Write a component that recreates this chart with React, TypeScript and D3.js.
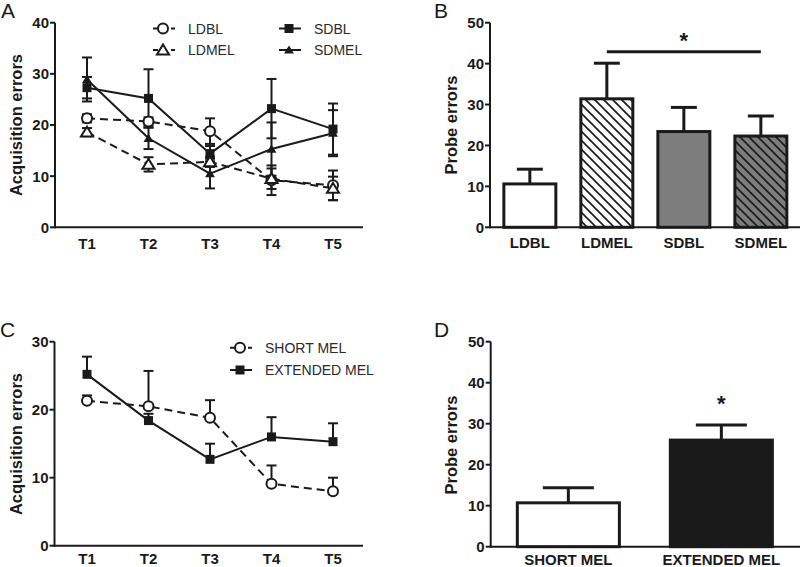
import React from "react";
import * as d3 from "d3";

const trials = ["T1", "T2", "T3", "T4", "T5"];
const ldblMean = [21.3, 20.7, 18.8, 9.2, 8.2];
const ldblErr = [0.8, 0.8, 2.5, 2.9, 2.9];
const ldmelMean = [18.6, 12.3, 12.8, 9.5, 7.6];
const ldmelErr = [0.8, 1.4, 1.0, 2.0, 2.3];
const sdblMean = [27.3, 25.2, 14.4, 23.2, 19.2];
const sdblErr = [2.1, 5.7, 1.5, 5.8, 5.0];
const sdmelMean = [28.9, 17.4, 10.5, 15.3, 18.4];
const sdmelErr = [4.3, 2.1, 2.9, 5.2, 4.5];

const groupsB = ["LDBL", "LDMEL", "SDBL", "SDMEL"];
const probeMeanB = [10.6, 31.4, 23.4, 22.3];
const probeErrB = [3.6, 8.7, 5.9, 4.9];

const shortMean = [21.3, 20.5, 18.8, 9.1, 8.0];
const shortErr = [0.8, 5.2, 2.6, 2.7, 2.0];
const extMean = [25.2, 18.4, 12.7, 16.0, 15.3];
const extErr = [2.6, 1.0, 2.3, 2.9, 2.7];

const groupsD = ["SHORT MEL", "EXTENDED MEL"];
const probeMeanD = [10.7, 26.0];
const probeErrD = [3.7, 3.7];

const yTicksA = [0, 10, 20, 30, 40];
const yTicksB = [0, 10, 20, 30, 40, 50];
const yTicksC = [0, 10, 20, 30];

const FONT = "'Liberation Sans', Arial, sans-serif";
const INK = "#1a1a1a";

type Marker = "circle" | "triangleOpen" | "square" | "triangle";

function MarkerShape({ type, x, y }: { type: Marker; x: number; y: number }) {
  if (type === "circle")
    return <circle cx={x} cy={y} r={5} fill="white" stroke={INK} strokeWidth={2} />;
  if (type === "square")
    return <rect x={x - 4.5} y={y - 4.5} width={9} height={9} fill={INK} />;
  const s = type === "triangle" ? 4.5 : 5.5;
  const p = `M${x},${y - s}L${x + s * 1.1},${y + s * 0.8}L${x - s * 1.1},${y + s * 0.8}Z`;
  if (type === "triangleOpen")
    return <path d={p} fill="white" stroke={INK} strokeWidth={2} />;
  return <path d={p} fill={INK} />;
}

function YAxis({ scale, ticks, x }: { scale: d3.ScaleLinear<number, number>; ticks: number[]; x: number }) {
  const [r0, r1] = scale.range();
  return (
    <g>
      <line x1={x} x2={x} y1={r0 + 1} y2={r1} stroke={INK} strokeWidth={2} />
      {ticks.map((t) => (
        <g key={t}>
          <line x1={x - 5} x2={x} y1={scale(t)} y2={scale(t)} stroke={INK} strokeWidth={2} />
          <text x={x - 6} y={scale(t)} dy="0.36em" textAnchor="end" fontFamily={FONT} fontWeight="bold" fontSize={15} fill={INK}>
            {t}
          </text>
        </g>
      ))}
    </g>
  );
}

function LinePanel({
  series,
  y,
  x,
  xAxisEnd,
  labelY,
  symmetric,
}: {
  series: { mean: number[]; err: number[]; marker: Marker; dashed: boolean }[];
  y: d3.ScaleLinear<number, number>;
  x: d3.ScalePoint<string>;
  xAxisEnd: number;
  labelY: number;
  symmetric: boolean;
}) {
  const line = d3
    .line<number>()
    .x((_, i) => x(trials[i])!)
    .y((d) => y(d));
  const y0 = y(0);
  return (
    <g>
      <line x1={54} x2={xAxisEnd} y1={y0} y2={y0} stroke={INK} strokeWidth={2} />
      {trials.map((t) => (
        <text key={t} x={x(t)} y={labelY} textAnchor="middle" fontFamily={FONT} fontWeight="bold" fontSize={15} fill={INK}>
          {t}
        </text>
      ))}
      {series.map((s, si) => (
        <path key={"l" + si} d={line(s.mean)!} fill="none" stroke={INK} strokeWidth={2} strokeDasharray={s.dashed ? "8,5" : undefined} />
      ))}
      {series.map((s, si) =>
        s.mean.map((m, i) => {
          const cx = x(trials[i])!;
          const top = y(m + s.err[i]);
          const bot = symmetric ? y(m - s.err[i]) : y(m);
          return (
            <g key={"e" + si + "-" + i}>
              <line x1={cx} x2={cx} y1={top} y2={bot} stroke={INK} strokeWidth={2} />
              <line x1={cx - 5} x2={cx + 5} y1={top} y2={top} stroke={INK} strokeWidth={2} />
              {symmetric && <line x1={cx - 5} x2={cx + 5} y1={bot} y2={bot} stroke={INK} strokeWidth={2} />}
            </g>
          );
        })
      )}
      {series.map((s, si) =>
        s.mean.map((m, i) => <MarkerShape key={"m" + si + "-" + i} type={s.marker} x={x(trials[i])!} y={y(m)} />)
      )}
    </g>
  );
}

function LegendItem({ x, y, marker, dashed, label }: { x: number; y: number; marker: Marker; dashed: boolean; label: string }) {
  return (
    <g>
      <line x1={x - 10} x2={x + 12} y1={y} y2={y} stroke={INK} strokeWidth={2} strokeDasharray={dashed ? "5,4" : undefined} />
      <MarkerShape type={marker} x={x} y={y} />
      <text x={x + 25} y={y} dy="0.36em" fontFamily={FONT} fontSize={14} fill="#2a2a2a">
        {label}
      </text>
    </g>
  );
}

function BarPanel({
  groups,
  means,
  errs,
  y,
  band,
  fills,
  labelY,
}: {
  groups: string[];
  means: number[];
  errs: number[];
  y: d3.ScaleLinear<number, number>;
  band: d3.ScaleBand<string>;
  fills: string[];
  labelY: number;
}) {
  const y0 = y(0);
  const bw = band.bandwidth();
  return (
    <g>
      {groups.map((g, i) => {
        const bx = band(g)!;
        const cx = bx + bw / 2;
        const top = y(means[i]);
        const et = y(means[i] + errs[i]);
        return (
          <g key={g}>
            <line x1={cx} x2={cx} y1={top} y2={et} stroke={INK} strokeWidth={3} />
            <line x1={cx - bw / 4} x2={cx + bw / 4} y1={et} y2={et} stroke={INK} strokeWidth={3} />
            <rect x={bx} y={top} width={bw} height={y0 - top} fill={fills[i]} stroke={INK} strokeWidth={3} />
            <text x={cx} y={labelY} textAnchor="middle" fontFamily={FONT} fontWeight="bold" fontSize={15} fill={INK}>
              {g}
            </text>
          </g>
        );
      })}
      <line x1={band.range()[0]} x2={800} y1={y0} y2={y0} stroke={INK} strokeWidth={2} />
    </g>
  );
}

export default function App() {
  const xA = d3.scalePoint<string>().domain(trials).range([87, 333]);
  const yA = d3.scaleLinear().domain([0, 40]).range([227.3, 22.7]);
  const yC = d3.scaleLinear().domain([0, 30]).range([545.7, 341.7]);
  const yB = d3.scaleLinear().domain([0, 50]).range([227.3, 22.7]);
  const yD = d3.scaleLinear().domain([0, 50]).range([546.7, 341.7]);
  const bandB = d3.scaleBand<string>().domain(groupsB).range([490, 800.7]).paddingInner(0.325).paddingOuter(0.18);
  const bandD = d3.scaleBand<string>().domain(groupsD).range([490.7, 799]).paddingInner(0.333).paddingOuter(0.174);

  const seriesA = [
    { mean: ldblMean, err: ldblErr, marker: "circle" as Marker, dashed: true },
    { mean: ldmelMean, err: ldmelErr, marker: "triangleOpen" as Marker, dashed: true },
    { mean: sdblMean, err: sdblErr, marker: "square" as Marker, dashed: false },
    { mean: sdmelMean, err: sdmelErr, marker: "triangle" as Marker, dashed: false },
  ];
  const seriesC = [
    { mean: shortMean, err: shortErr, marker: "circle" as Marker, dashed: true },
    { mean: extMean, err: extErr, marker: "square" as Marker, dashed: false },
  ];

  const sigX1 = bandB("LDMEL")! + bandB.bandwidth() / 2;
  const sigX2 = bandB("SDMEL")! + bandB.bandwidth() / 2;
  const starD = bandD("EXTENDED MEL")! + bandD.bandwidth() / 2;

  return (
    <svg width={800} height={567} style={{ position: "absolute", left: 0, top: 0, background: "white" }}>
      <defs>
        <pattern id="hatchW" patternUnits="userSpaceOnUse" width={9} height={9}>
          <rect width={9} height={9} fill="white" />
          <path d="M0,0L9,9M-4.5,4.5L4.5,13.5M4.5,-4.5L13.5,4.5" stroke={INK} strokeWidth={1.6} />
        </pattern>
        <pattern id="hatchG" patternUnits="userSpaceOnUse" width={9} height={9}>
          <rect width={9} height={9} fill="#7d7d7d" />
          <path d="M0,0L9,9M-4.5,4.5L4.5,13.5M4.5,-4.5L13.5,4.5" stroke={INK} strokeWidth={1.6} />
        </pattern>
      </defs>
      <rect width={800} height={567} fill="white" />

      {/* Panel letters */}
      <text x={1} y={18} fontFamily={FONT} fontSize={21} fill={INK}>A</text>
      <text x={434} y={18} fontFamily={FONT} fontSize={21} fill={INK}>B</text>
      <text x={0} y={337} fontFamily={FONT} fontSize={21} fill={INK}>C</text>
      <text x={434} y={337} fontFamily={FONT} fontSize={21} fill={INK}>D</text>

      {/* Panel A */}
      <YAxis scale={yA} ticks={yTicksA} x={55} />
      <text transform="translate(22,125) rotate(-90)" textAnchor="middle" fontFamily={FONT} fontWeight="bold" fontSize={16.5} fill={INK}>
        Acquisition errors
      </text>
      <LinePanel series={seriesA} y={yA} x={xA} xAxisEnd={363} labelY={249} symmetric={true} />
      <LegendItem x={163} y={28.5} marker="circle" dashed={true} label="LDBL" />
      <LegendItem x={163} y={50} marker="triangleOpen" dashed={true} label="LDMEL" />
      <LegendItem x={289} y={28.5} marker="square" dashed={false} label="SDBL" />
      <LegendItem x={289} y={50} marker="triangle" dashed={false} label="SDMEL" />

      {/* Panel B */}
      <YAxis scale={yB} ticks={yTicksB} x={490} />
      <text transform="translate(457,125) rotate(-90)" textAnchor="middle" fontFamily={FONT} fontWeight="bold" fontSize={16.5} fill={INK}>
        Probe errors
      </text>
      <BarPanel groups={groupsB} means={probeMeanB} errs={probeErrB} y={yB} band={bandB} fills={["white", "url(#hatchW)", "#7d7d7d", "url(#hatchG)"]} labelY={248} />
      <line x1={sigX1} x2={sigX2} y1={51.7} y2={51.7} stroke={INK} strokeWidth={3} />
      <text x={(sigX1 + sigX2) / 2} y={48} textAnchor="middle" fontFamily={FONT} fontWeight="bold" fontSize={22} fill={INK}>*</text>

      {/* Panel C */}
      <YAxis scale={yC} ticks={yTicksC} x={54.5} />
      <text transform="translate(22,444) rotate(-90)" textAnchor="middle" fontFamily={FONT} fontWeight="bold" fontSize={16.5} fill={INK}>
        Acquisition errors
      </text>
      <LinePanel series={seriesC} y={yC} x={xA} xAxisEnd={363} labelY={564} symmetric={false} />
      <LegendItem x={240} y={347.7} marker="circle" dashed={true} label="SHORT MEL" />
      <LegendItem x={240} y={370} marker="square" dashed={false} label="EXTENDED MEL" />

      {/* Panel D */}
      <YAxis scale={yD} ticks={yTicksB} x={490.7} />
      <text transform="translate(457,445) rotate(-90)" textAnchor="middle" fontFamily={FONT} fontWeight="bold" fontSize={16.5} fill={INK}>
        Probe errors
      </text>
      <BarPanel groups={groupsD} means={probeMeanD} errs={probeErrD} y={yD} band={bandD} fills={["white", INK]} labelY={565} />
      <text x={starD} y={411} textAnchor="middle" fontFamily={FONT} fontWeight="bold" fontSize={22} fill={INK}>*</text>
    </svg>
  );
}
